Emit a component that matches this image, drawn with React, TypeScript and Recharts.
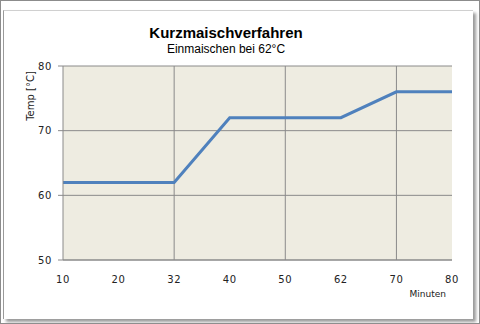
import { LineChart, Line, XAxis, YAxis, CartesianGrid, ReferenceLine } from 'recharts';

// Minuten (category labels, equally spaced as in the source chart)
const minutes = ['10', '20', '32', '40', '50', '62', '70', '80'];
// Temperatur in °C
const temps = [62, 62, 62, 72, 72, 72, 76, 76];
const yTicks = [50, 60, 70, 80];
const gridMinutes = ['32', '50', '70'];

const data = minutes.map((m, i) => ({ t: m, temp: temps[i] }));

const GRID = '#8a8a8a';
const tickStyle = { fill: '#222', fontSize: 10, fontFamily: 'DejaVu Sans', letterSpacing: 0.6 };

export default function App() {
    return (
        <div
            style={{
                position: 'absolute',
                left: 0,
                top: 0,
                width: 480,
                height: 324,
                boxSizing: 'border-box',
                border: '1px solid #8c8c8c',
                background: '#fff',
                fontFamily: 'Liberation Sans, Arial, sans-serif',
            }}
        >
            {/* inner panel with shadow */}
            <div
                style={{
                    position: 'absolute',
                    left: 2,
                    top: 9,
                    width: 469,
                    height: 308,
                    borderLeft: '1px solid #9a9a9a',
                    borderTop: '1px solid #d0d0d0',
                    boxShadow: '3px 3px 3px #9a9a9a',
                    background: '#fff',
                }}
            />
            <div style={{ position: 'absolute', left: 0, top: 0 }}>
                <LineChart width={480} height={324} data={data} margin={{ top: 65, right: 29, bottom: 35, left: 0 }}>
                    <CartesianGrid fill="#EEECE1" stroke={GRID} vertical={false} strokeDasharray="" />
                    <XAxis
                        dataKey="t"
                        height={30}
                        tick={tickStyle}
                        tickLine={false}
                        tickSize={0}
                        tickMargin={16}
                        axisLine={{ stroke: GRID }}
                    />
                    <YAxis
                        domain={[50, 80]}
                        ticks={yTicks}
                        width={62}
                        tick={tickStyle}
                        tickSize={5}
                        tickMargin={6}
                        tickLine={{ stroke: GRID }}
                        axisLine={{ stroke: GRID }}
                    />
                    {gridMinutes.map((m) => (
                        <ReferenceLine key={m} x={m} stroke={GRID} />
                    ))}
                    <Line
                        type="linear"
                        dataKey="temp"
                        stroke="#4F81BD"
                        strokeWidth={3}
                        dot={false}
                        isAnimationActive={false}
                    />
                </LineChart>
            </div>
            <div
                style={{
                    position: 'absolute',
                    left: 0,
                    top: 23,
                    width: 450,
                    textAlign: 'center',
                    fontSize: 15,
                    fontWeight: 'bold',
                    color: '#000',
                }}
            >
                Kurzmaischverfahren
            </div>
            <div
                style={{
                    position: 'absolute',
                    left: 0,
                    top: 41,
                    width: 450,
                    textAlign: 'center',
                    fontSize: 12,
                    color: '#000',
                }}
            >
                Einmaischen bei 62°C
            </div>
            <div
                style={{
                    position: 'absolute',
                    left: 29,
                    top: 95,
                    transform: 'translate(-50%, -50%) rotate(-90deg)',
                    fontSize: 10,
                    fontFamily: 'DejaVu Sans',
                    whiteSpace: 'nowrap',
                    color: '#222',
                }}
            >
                Temp [°C]
            </div>
            <div
                style={{
                    position: 'absolute',
                    right: 33,
                    top: 288,
                    fontSize: 9,
                    fontFamily: 'DejaVu Sans',
                    color: '#222',
                }}
            >
                Minuten
            </div>
        </div>
    );
}
